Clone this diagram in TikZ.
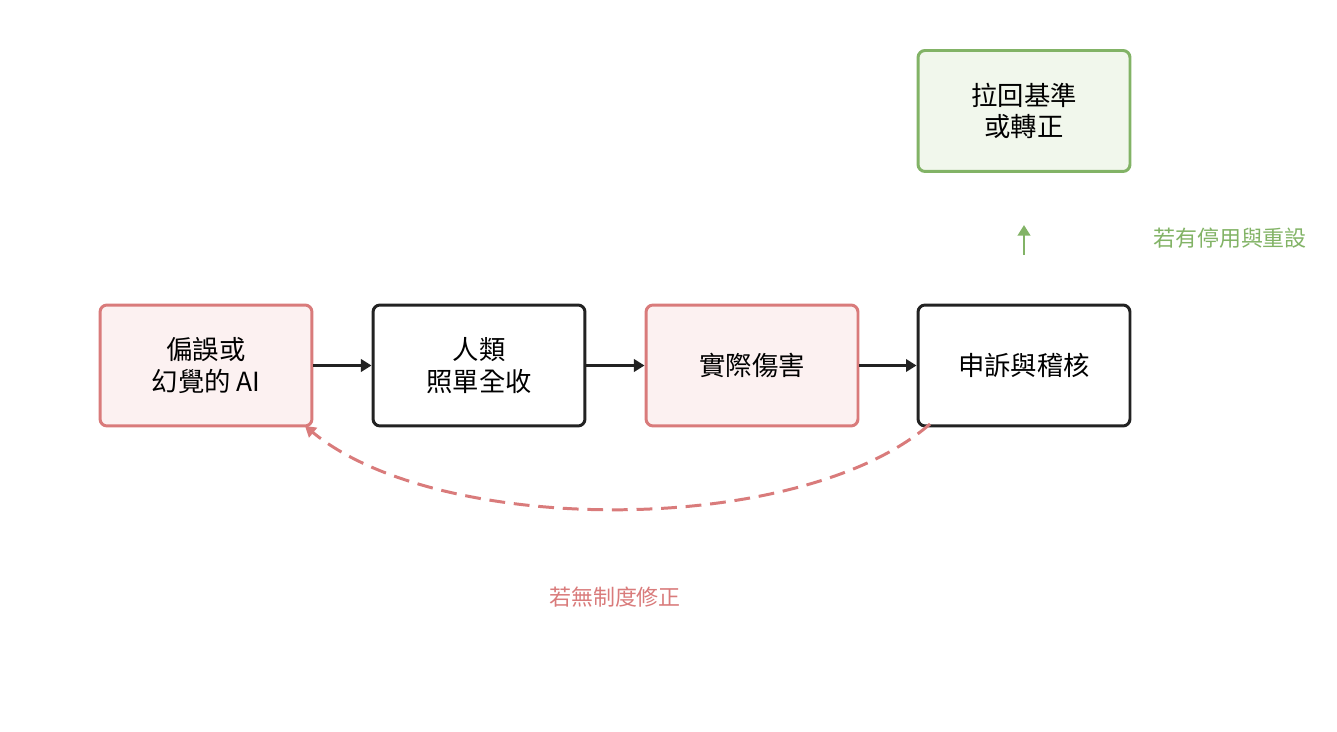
\documentclass[tikz,border=0pt]{standalone}
\usepackage{fontspec}
\setmainfont{Noto Sans CJK TC}
\usetikzlibrary{arrows.meta}
\definecolor{redline}{HTML}{D97B7B}
\definecolor{redfill}{HTML}{FCF1F1}
\definecolor{greenline}{HTML}{82B366}
\definecolor{greenfill}{HTML}{F1F7EC}
\definecolor{darkline}{HTML}{222222}
\tikzset{
  box/.style={draw=darkline, fill=white, line width=1.7pt, rounded corners=4pt,
              minimum width=4.24cm, minimum height=2.42cm, align=center,
              font=\fontsize{15}{18}\selectfont},
  redbox/.style={box, draw=redline, fill=redfill},
  greenbox/.style={box, draw=greenline, fill=greenfill},
  flow/.style={-{Triangle[length=6pt,width=7pt]}, line width=1.7pt, draw=darkline},
  note/.style={font=\fontsize{12.5}{15}\selectfont}
}
\begin{document}
\begin{tikzpicture}[x=0.02cm,y=-0.02cm]
\useasboundingbox (0,0) rectangle (1337,732);
%
% Steps
\node[redbox]   (ai)     at (206,365.5) {偏誤或\\幻覺的 AI};
\node[box]      (accept) at (479,365.5) {人類\\照單全收};
\node[redbox]   (harm)   at (752,365.5) {實際傷害};
\node[box]      (appeal) at (1024,365.5) {申訴與稽核};
\node[greenbox] (reset)  at (1024,111) {拉回基準\\或轉正};
%
% Flow
\draw[flow] (ai) -- (accept);
\draw[flow] (accept) -- (harm);
\draw[flow] (harm) -- (appeal);
%
% Branches
\coordinate (up0) at (1024,255);
\coordinate (up1) at (1024,225);
\draw[flow, draw=greenline, line width=1.5pt] (up0) -- (up1);
\node[note, text=greenline] (oklbl) at (1230,238) {若有停用與重設};
\coordinate (back0) at (930,424);
\coordinate (back1) at (305,426);
\draw[flow, draw=redline, dashed, dash pattern=on 9pt off 5pt]
      (back0) .. controls (800,537) and (440,537) .. (back1);
\node[note, text=redline] (nolbl) at (615,597) {若無制度修正};
%
\end{tikzpicture}
\end{document}
